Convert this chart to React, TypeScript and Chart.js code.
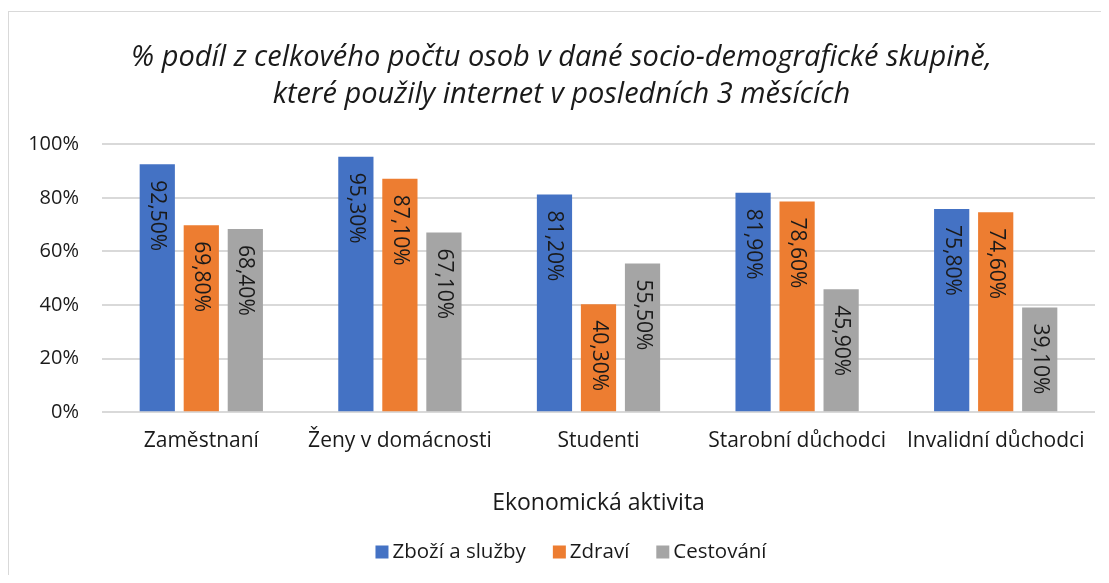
import React, { useEffect, useRef } from "react";
import { Chart, registerables } from "chart.js";

Chart.register(...registerables);

const categories = ["Zaměstnaní", "Ženy v domácnosti", "Studenti", "Starobní důchodci", "Invalidní důchodci"];
const seriesNames = ["Zboží a služby", "Zdraví", "Cestování"];
const zboziASluzby = [92.5, 95.3, 81.2, 81.9, 75.8];
const zdravi = [69.8, 87.1, 40.3, 78.6, 74.6];
const cestovani = [68.4, 67.1, 55.5, 45.9, 39.1];
const seriesColors = ["#4472C4", "#ED7D31", "#A5A5A5"];
const yTicks = [0, 20, 40, 60, 80, 100];
const titleLines = [
  "% podíl z celkového počtu osob v dané socio-demografické skupině,",
  "které použily internet v posledních 3 měsících",
];
const xAxisTitle = "Ekonomická aktivita";

const FONT = "'Open Sans', sans-serif";
const TEXT = "#1a1a1a";

const fmt = (v: number) => v.toFixed(2).replace(".", ",") + "%";

const barLabels = {
  id: "barLabels",
  afterDatasetsDraw(chart: any) {
    const ctx = chart.ctx;
    chart.data.datasets.forEach((ds: any, i: number) => {
      const meta = chart.getDatasetMeta(i);
      meta.data.forEach((bar: any, j: number) => {
        const v = ds.data[j];
        ctx.save();
        ctx.translate(bar.x, bar.y + 16);
        ctx.rotate(Math.PI / 2);
        ctx.font = `21px ${FONT}`;
        ctx.fillStyle = TEXT;
        ctx.textAlign = "left";
        ctx.textBaseline = "middle";
        ctx.fillText(fmt(v), 0, 0);
        ctx.restore();
      });
    });
  },
};

const customLegend = {
  id: "customLegend",
  afterDraw(chart: any) {
    const ctx = chart.ctx;
    const box = 13;
    const gapText = 4;
    const gapItem = 27;
    ctx.save();
    ctx.font = `20.5px ${FONT}`;
    const items = chart.data.datasets.map((ds: any) => ({
      label: ds.label,
      color: ds.backgroundColor,
      w: ctx.measureText(ds.label).width,
    }));
    const total =
      items.reduce((s: number, it: any) => s + box + gapText + it.w, 0) + gapItem * (items.length - 1);
    let x = 562 - total / 2;
    const cy = chart.height - 23;
    items.forEach((it: any) => {
      ctx.fillStyle = it.color;
      ctx.fillRect(x, cy - box / 2, box, box);
      x += box + gapText;
      ctx.fillStyle = TEXT;
      ctx.textAlign = "left";
      ctx.textBaseline = "middle";
      ctx.fillText(it.label, x, cy);
      x += it.w + gapItem;
    });
    ctx.restore();
  },
};

export default function App() {
  const ref = useRef<HTMLCanvasElement>(null);
  useEffect(() => {
    if (!ref.current) return;
    const values = [zboziASluzby, zdravi, cestovani];
    const chart = new Chart(ref.current, {
      type: "bar",
      data: {
        labels: categories,
        datasets: seriesNames.map((name, i) => ({
          label: name,
          data: values[i],
          backgroundColor: seriesColors[i],
          borderWidth: 0,
          barPercentage: 0.8,
          categoryPercentage: 0.665,
        })),
      },
      options: {
        animation: false,
        responsive: true,
        maintainAspectRatio: false,
        layout: { padding: { left: 19, right: 29, top: 27, bottom: 58 } },
        plugins: {
          title: {
            display: true,
            text: titleLines,
            color: TEXT,
            font: { family: FONT, size: 29, style: "italic", weight: "normal", lineHeight: 1.28 },
            padding: { top: 0, bottom: 31 },
          },
          legend: { display: false },
          tooltip: { enabled: false },
        },
        scales: {
          x: {
            grid: { display: false },
            border: { display: false },
            ticks: { color: TEXT, font: { family: FONT, size: 21 }, padding: 8 },
            title: {
              display: true,
              text: xAxisTitle,
              color: TEXT,
              font: { family: FONT, size: 23 },
              padding: { top: 28, bottom: 0 },
            },
            afterFit: (axis: any) => {
              axis.paddingLeft = 0;
              axis.paddingRight = 0;
            },
          },
          y: {
            min: 0,
            max: 100,
            afterBuildTicks: (axis: any) => {
              axis.ticks = yTicks.map((v) => ({ value: v }));
            },
            afterFit: (axis: any) => {
              axis.width = 74;
            },
            grid: { color: "#d9d9d9", lineWidth: 2, drawTicks: false },
            border: { display: false },
            ticks: {
              color: TEXT,
              font: { family: FONT, size: 20 },
              padding: 23,
              callback: (v: any) => v + "%",
            },
          },
        },
      },
      plugins: [barLabels, customLegend],
    });
    return () => chart.destroy();
  }, []);
  return (
    <div style={{ marginTop: 3, height: 564, overflow: "hidden" }}>
      <div
        style={{
          width: 1116,
          height: 564,
          boxSizing: "border-box",
          borderTop: "1px solid #d9d9d9",
          borderLeft: "1px solid #d9d9d9",
          position: "relative",
        }}
      >
        <canvas ref={ref} />
      </div>
    </div>
  );
}
